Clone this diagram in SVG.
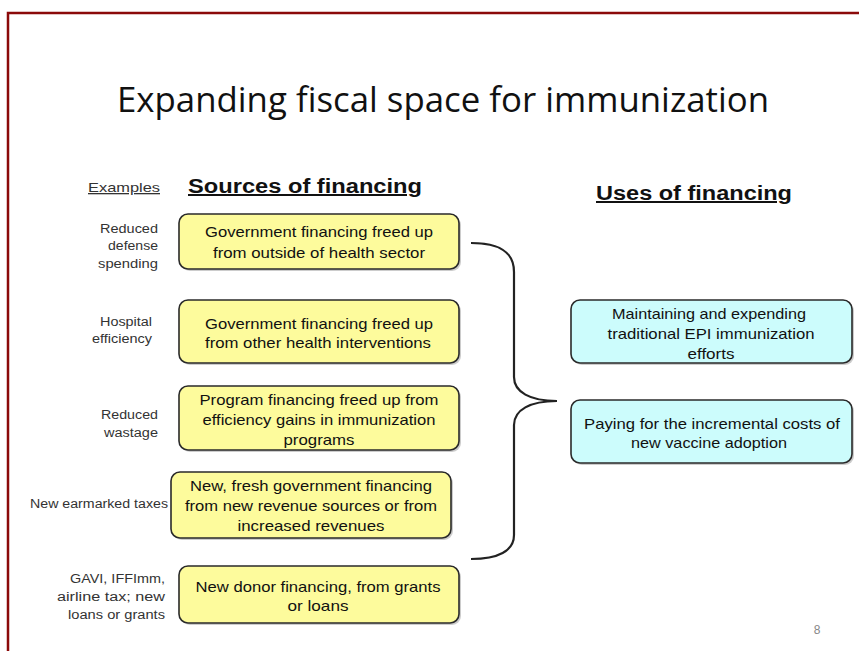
<svg xmlns="http://www.w3.org/2000/svg" width="859" height="651" viewBox="0 0 859 651">
<style>
.t{font-family:"Liberation Sans",Arial,sans-serif;font-size:15px;fill:#111;text-anchor:middle}
.ex{font-family:"Liberation Sans",Arial,sans-serif;font-size:12.5px;fill:#333;text-anchor:end}
.src{fill:#fdfb9c;stroke:#2a2a2a;stroke-width:1.6}
.use{fill:#ccfcfc;stroke:#2a2a2a;stroke-width:1.6}
.sh{fill:#9a9a9a;opacity:0.5}
.hd{font-family:"Liberation Sans",Arial,sans-serif;font-weight:bold;font-size:20px;fill:#111;text-decoration:underline}
</style>
<rect width="859" height="651" fill="#ffffff"/>
<path d="M8,651 V13 H859" fill="none" stroke="#8b0a0a" stroke-width="2.5"/>
<text x="443" y="112" font-family="Open Sans,Noto Sans,sans-serif" font-size="35" fill="#111" text-anchor="middle" textLength="652" lengthAdjust="spacingAndGlyphs">Expanding fiscal space for immunization</text>
<text x="88" y="192" font-family="Liberation Sans,Arial,sans-serif" font-size="13" fill="#333" text-decoration="underline" textLength="72" lengthAdjust="spacingAndGlyphs">Examples</text>
<text class="hd" x="188" y="193" textLength="234" lengthAdjust="spacingAndGlyphs">Sources of financing</text>
<text class="hd" x="596" y="200" textLength="196" lengthAdjust="spacingAndGlyphs">Uses of financing</text>

<g id="ex1"><text class="ex" x="158" y="233" textLength="58" lengthAdjust="spacingAndGlyphs">Reduced</text><text class="ex" x="158" y="250" textLength="50" lengthAdjust="spacingAndGlyphs">defense</text><text class="ex" x="158" y="268" textLength="60" lengthAdjust="spacingAndGlyphs">spending</text></g>
<g id="ex2"><text class="ex" x="152" y="326" textLength="52" lengthAdjust="spacingAndGlyphs">Hospital</text><text class="ex" x="152" y="343" textLength="60" lengthAdjust="spacingAndGlyphs">efficiency</text></g>
<g id="ex3"><text class="ex" x="158" y="419" textLength="57" lengthAdjust="spacingAndGlyphs">Reduced</text><text class="ex" x="158" y="437" textLength="54" lengthAdjust="spacingAndGlyphs">wastage</text></g>
<g id="ex4"><text class="ex" x="168" y="508" textLength="138" lengthAdjust="spacingAndGlyphs">New earmarked taxes</text></g>
<g id="ex5"><text class="ex" x="165" y="583" textLength="95" lengthAdjust="spacingAndGlyphs">GAVI, IFFImm,</text><text class="ex" x="165" y="601" textLength="108" lengthAdjust="spacingAndGlyphs">airline tax; new</text><text class="ex" x="165" y="619" textLength="97" lengthAdjust="spacingAndGlyphs">loans or grants</text></g>

<g id="src1"><rect class="sh" x="181" y="216" width="280" height="55" rx="9"/><rect class="src" x="179" y="214" width="280" height="55" rx="9"/>
<text class="t" x="319" y="237" textLength="228" lengthAdjust="spacingAndGlyphs">Government financing freed up</text><text class="t" x="319" y="258" textLength="212" lengthAdjust="spacingAndGlyphs">from outside of health sector</text></g>
<g id="src2"><rect class="sh" x="181" y="302" width="280" height="63" rx="9"/><rect class="src" x="179" y="300" width="280" height="63" rx="9"/>
<text class="t" x="319" y="329" textLength="228" lengthAdjust="spacingAndGlyphs">Government financing freed up</text><text class="t" x="318" y="348" textLength="226" lengthAdjust="spacingAndGlyphs">from other health interventions</text></g>
<g id="src3"><rect class="sh" x="181" y="388" width="280" height="64" rx="9"/><rect class="src" x="179" y="386" width="280" height="64" rx="9"/>
<text class="t" x="319" y="405" textLength="239" lengthAdjust="spacingAndGlyphs">Program financing freed up from</text><text class="t" x="319" y="425" textLength="233" lengthAdjust="spacingAndGlyphs">efficiency gains in immunization</text><text class="t" x="319" y="445" textLength="71" lengthAdjust="spacingAndGlyphs">programs</text></g>
<g id="src4"><rect class="sh" x="173" y="474" width="280" height="66" rx="9"/><rect class="src" x="171" y="472" width="280" height="66" rx="9"/>
<text class="t" x="311" y="491" textLength="242" lengthAdjust="spacingAndGlyphs">New, fresh government financing</text><text class="t" x="311" y="511" textLength="252" lengthAdjust="spacingAndGlyphs">from new revenue sources or from</text><text class="t" x="311" y="531" textLength="147" lengthAdjust="spacingAndGlyphs">increased revenues</text></g>
<g id="src5"><rect class="sh" x="181" y="568" width="280" height="57" rx="9"/><rect class="src" x="179" y="566" width="280" height="57" rx="9"/>
<text class="t" x="318" y="592" textLength="245" lengthAdjust="spacingAndGlyphs">New donor financing, from grants</text><text class="t" x="318" y="611" textLength="61" lengthAdjust="spacingAndGlyphs">or loans</text></g>

<g id="use1"><rect class="sh" x="573" y="302" width="281" height="63" rx="9"/><rect class="use" x="571" y="300" width="281" height="63" rx="9"/>
<text class="t" x="709" y="319" textLength="194" lengthAdjust="spacingAndGlyphs">Maintaining and expending</text><text class="t" x="711" y="339" textLength="207" lengthAdjust="spacingAndGlyphs">traditional EPI immunization</text><text class="t" x="711" y="359" textLength="47" lengthAdjust="spacingAndGlyphs">efforts</text></g>
<g id="use2"><rect class="sh" x="573" y="402" width="281" height="63" rx="9"/><rect class="use" x="571" y="400" width="281" height="63" rx="9"/>
<text class="t" x="712" y="429" textLength="256" lengthAdjust="spacingAndGlyphs">Paying for the incremental costs of</text><text class="t" x="709" y="448" textLength="156" lengthAdjust="spacingAndGlyphs">new vaccine adoption</text></g>

<g id="connectors">
<path d="M471,243 C500,243 514,252 514,272 V377 C514,392 530,401 557,401 C530,401 514,410 514,425 V535 C514,551 498,559 471,559" fill="none" stroke="#222" stroke-width="2.2"/>
</g>
<text x="817" y="634" font-family="Liberation Sans,Arial,sans-serif" font-size="12" fill="#888" text-anchor="middle">8</text>
</svg>
